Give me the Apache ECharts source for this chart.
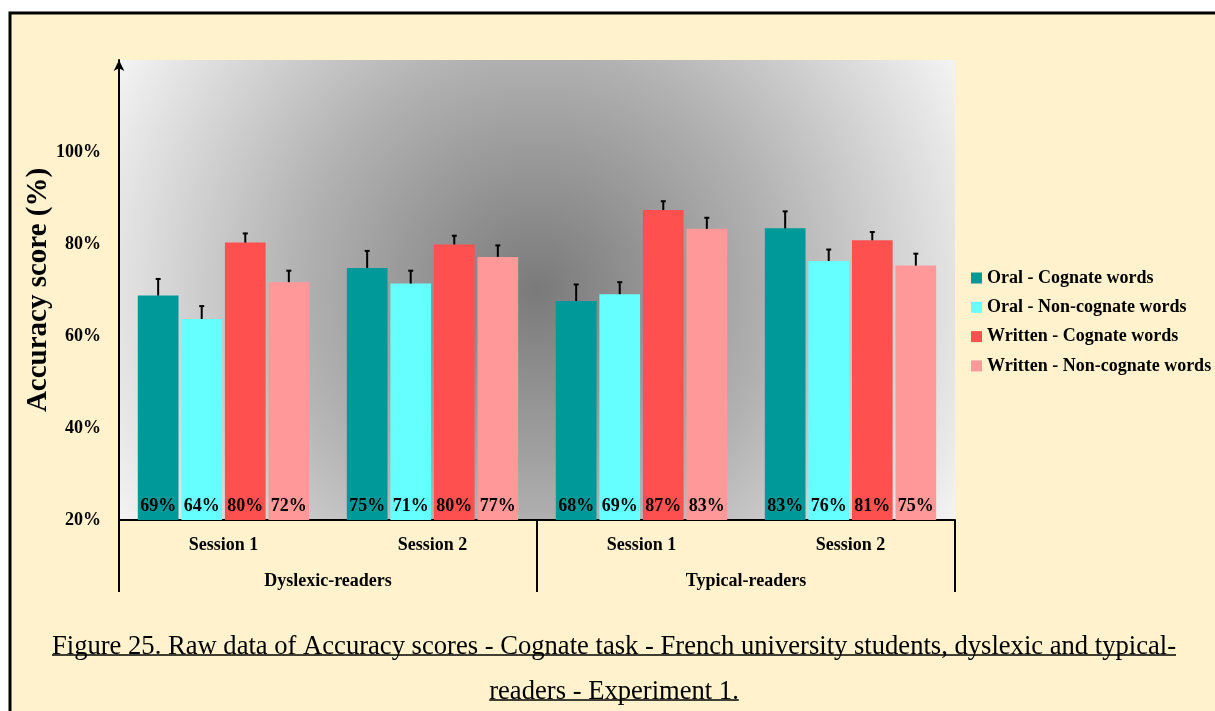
<!DOCTYPE html>
<html><head><meta charset="utf-8">
<script src="https://cdn.jsdelivr.net/npm/echarts@6/dist/echarts.min.js"></script>
<style>html,body{margin:0;padding:0;background:#fff;} #c{width:1215px;height:711px;}</style>
</head><body><div id="c"></div>
<script>
// ---- data ----
const sessions = ['Session 1', 'Session 2', 'Session 1', 'Session 2'];
const groups = ['Dyslexic-readers', 'Typical-readers'];
const seriesNames = ['Oral - Cognate words', 'Oral - Non-cognate words', 'Written - Cognate words', 'Written - Non-cognate words'];
const oralCognate = [68.8, 74.8, 67.6, 83.4];
const oralNonCognate = [63.7, 71.4, 69.1, 76.3];
const writtenCognate = [80.3, 79.9, 87.4, 80.8];
const writtenNonCognate = [71.7, 77.2, 83.3, 75.3];
const errOralCognate = [3.6, 3.7, 3.6, 3.7];
const errOralNonCognate = [2.8, 2.8, 2.6, 2.5];
const errWrittenCognate = [2.0, 1.9, 1.9, 1.8];
const errWrittenNonCognate = [2.5, 2.5, 2.4, 2.6];
const yMin = 20, yMax = 120, yStep = 20, yLabelMax = 100;
const yTitle = 'Accuracy score (%)';
const captionLines = [
  'Figure 25. Raw data of Accuracy scores - Cognate task - French university students, dyslexic and typical-',
  'readers - Experiment 1.'
];

// ---- style ----
const colors = ['#009999', '#66FFFF', '#FF5050', '#FF9999'];
const values = [oralCognate, oralNonCognate, writtenCognate, writtenNonCognate];
const errors = [errOralCognate, errOralNonCognate, errWrittenCognate, errWrittenNonCognate];
const SERIF = '"Liberation Serif", "Times New Roman", serif';
const CAT_GAP = 0.18, BAR_GAP = 0.07, N = 4;
const cream = '#FFF2CC';

const chart = echarts.init(document.getElementById('c'), null, {renderer: 'canvas'});

function errRender(idx) {
  return function (params, api) {
    const cat = api.value(0), v = api.value(1), e = api.value(2);
    const band = api.size([1, 0])[0];
    const w = band * (1 - CAT_GAP) / (N + (N - 1) * BAR_GAP);
    const total = N * w + (N - 1) * BAR_GAP * w;
    const p0 = api.coord([cat, v]);
    const p1 = api.coord([cat, v + e]);
    const x = p0[0] - total / 2 + idx * w * (1 + BAR_GAP) + w / 2;
    return {
      type: 'group',
      children: [
        {type: 'line', shape: {x1: x, y1: p0[1], x2: x, y2: p1[1]}, style: {stroke: '#000', lineWidth: 2}},
        {type: 'line', shape: {x1: x - 2.5, y1: p1[1], x2: x + 2.5, y2: p1[1]}, style: {stroke: '#000', lineWidth: 2}}
      ]
    };
  };
}

const barSeries = seriesNames.map((name, i) => ({
  name: name,
  type: 'bar',
  data: values[i],
  barGap: (BAR_GAP * 100) + '%',
  barCategoryGap: (CAT_GAP * 100) + '%',
  itemStyle: {color: colors[i]},
  label: {
    show: true, position: 'insideBottom', distance: 5,
    formatter: p => Math.round(p.value) + '%',
    fontFamily: SERIF, fontWeight: 'bold', fontSize: 18, color: '#000'
  },
  z: 2
}));
const errSeries = seriesNames.map((name, i) => ({
  name: 'err-' + i,
  type: 'custom',
  renderItem: errRender(i),
  data: values[i].map((v, k) => [k, v, errors[i][k]]),
  encode: {x: 0, y: [1, 2]},
  z: 3,
  silent: true
}));

// caption underline widths
const capSize = 26.6;
const mctx = document.createElement('canvas').getContext('2d');
mctx.font = capSize + 'px ' + SERIF;
const capCenter = 614;
const capY = [634, 679];
const underlines = captionLines.map((t, i) => {
  const w = mctx.measureText(t).width;
  return {type: 'line', shape: {x1: capCenter - w / 2, y1: capY[i] + 21, x2: capCenter + w / 2, y2: capY[i] + 21},
    style: {stroke: '#000', lineWidth: 1.5}};
});

chart.setOption({
  backgroundColor: cream,
  animation: false,
  title: captionLines.map((t, i) => ({
    text: t, left: capCenter, top: capY[i], textAlign: 'center', padding: 0,
    textStyle: {fontFamily: SERIF, fontWeight: 'normal', fontSize: capSize, color: '#000'}
  })),
  grid: {
    left: 119, right: 260, top: 60, bottom: 191, show: true, borderWidth: 0,
    backgroundColor: new echarts.graphic.RadialGradient(0.5, 0.5, 1.04, [
      {offset: 0, color: '#7a7a7a'},
      {offset: 0.5, color: '#b2b2b2'},
      {offset: 1, color: '#f4f4f4'}
    ])
  },
  legend: {
    orient: 'vertical', left: 966, top: 264, itemWidth: 11, itemHeight: 11, itemGap: 11.3,
    icon: 'rect', data: seriesNames,
    textStyle: {fontFamily: SERIF, fontWeight: 'bold', fontSize: 18, color: '#000', lineHeight: 18}
  },
  xAxis: [
    {
      type: 'category', data: sessions, position: 'bottom',
      axisLine: {lineStyle: {color: '#000', width: 2}},
      axisTick: {show: false},
      axisLabel: {margin: 16, fontFamily: SERIF, fontWeight: 'bold', fontSize: 18, color: '#000'}
    },
    {
      type: 'category', data: groups, position: 'bottom',
      axisLine: {show: false},
      axisTick: {show: true, length: 72, lineStyle: {color: '#000', width: 2}},
      axisLabel: {margin: 52, fontFamily: SERIF, fontWeight: 'bold', fontSize: 18, color: '#000'}
    }
  ],
  yAxis: {
    type: 'value', min: yMin, max: yMax, interval: yStep,
    name: yTitle, nameLocation: 'middle', nameRotate: 90, nameGap: 66, nameMoveOverlap: false,
    nameTextStyle: {fontFamily: SERIF, fontWeight: 'bold', fontSize: 29, color: '#000'},
    axisLine: {show: true, symbol: ['none', 'arrow'], symbolSize: [8, 11], lineStyle: {color: '#000', width: 2}},
    axisTick: {show: false},
    splitLine: {show: false},
    axisLabel: {
      margin: 18, fontFamily: SERIF, fontWeight: 'bold', fontSize: 18, color: '#000',
      formatter: v => (v <= yLabelMax ? v + '%' : '')
    }
  },
  graphic: [
    {type: 'rect', shape: {x: 0, y: 0, width: 1215, height: 11.5}, style: {fill: '#fff'}, silent: true},
    {type: 'rect', shape: {x: 0, y: 0, width: 8.5, height: 711}, style: {fill: '#fff'}, silent: true},
    {type: 'polyline', shape: {points: [[10, 711], [10, 13], [1215, 13]]}, style: {stroke: '#000', lineWidth: 3, fill: null}, silent: true}
  ].concat(underlines),
  series: barSeries.concat(errSeries)
});
</script></body></html>
